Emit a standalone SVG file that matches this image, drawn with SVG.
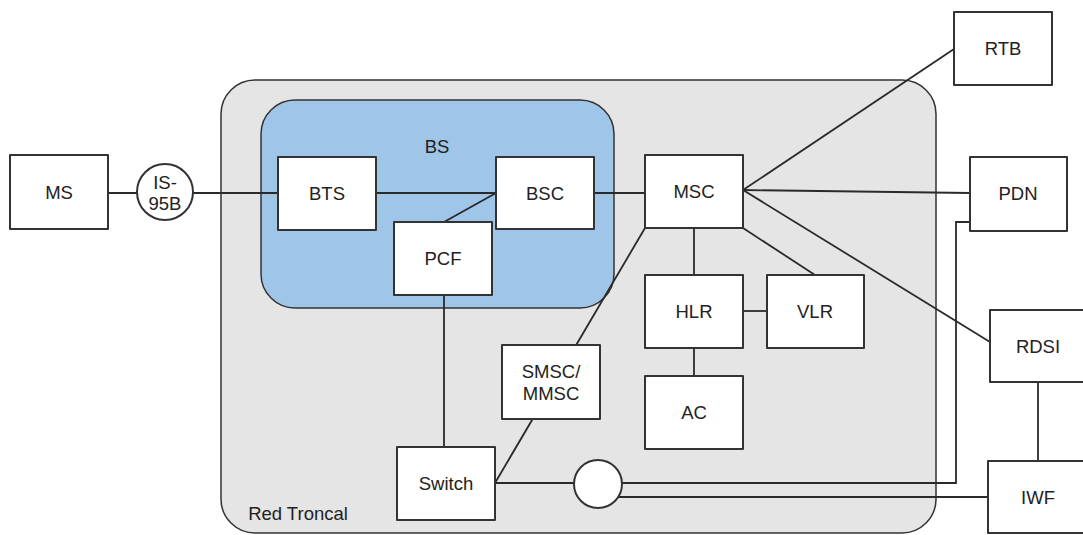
<svg xmlns="http://www.w3.org/2000/svg" width="1083" height="535" viewBox="0 0 1083 535">
  <style>
    .zone { fill: #e5e5e5; stroke: #333; stroke-width: 1.5; }
    .bs { fill: #9fc5e8; stroke: #333; stroke-width: 1.5; }
    .box { fill: #fff; stroke: #333; stroke-width: 2; stroke-linejoin: round; }
    .lbl { font-family: "Liberation Sans", Arial, sans-serif; font-size: 18.5px; fill: #222; text-anchor: middle; dominant-baseline: central; }
    .wire { fill: none; stroke: #2a2a2a; stroke-width: 1.8; }
  </style>

  <rect width="1083" height="535" fill="#fff"/>

  <!-- core network area -->
  <g id="red-troncal">
    <rect class="zone" x="221" y="80" width="715" height="453" rx="34"/>
    <text class="lbl" x="298" y="513">Red Troncal</text>
  </g>

  <!-- base station area -->
  <g id="bs">
    <rect class="bs" x="261" y="100" width="353" height="208" rx="34"/>
    <text class="lbl" x="437" y="146">BS</text>
  </g>

  <!-- connectors -->
  <g id="connectors" class="wire">
    <line x1="108" y1="193" x2="278" y2="193"/>
    <line x1="376" y1="193" x2="496" y2="193"/>
    <line x1="496" y1="193" x2="444" y2="222"/>
    <line x1="594" y1="193" x2="645" y2="193"/>
    <line x1="743" y1="190" x2="954" y2="49"/>
    <line x1="743" y1="190" x2="970" y2="193"/>
    <line x1="743" y1="190" x2="990" y2="342"/>
    <line x1="743" y1="228" x2="815" y2="275"/>
    <line x1="694" y1="228" x2="694" y2="275"/>
    <line x1="743" y1="311" x2="767" y2="311"/>
    <line x1="694" y1="348" x2="694" y2="376"/>
    <line x1="444" y1="295" x2="444" y2="447"/>
    <line x1="495" y1="483" x2="645" y2="228"/>
    <line x1="495" y1="483" x2="574" y2="483"/>
    <polyline points="622,483 956,483 956,222 970,222"/>
    <line x1="617" y1="497" x2="990" y2="497"/>
    <line x1="1038" y1="382" x2="1038" y2="461"/>
  </g>

  <g id="ms"><rect class="box" x="10" y="155" width="98" height="74"/><text class="lbl" x="59" y="192">MS</text></g>
  <g id="is95b"><circle class="box" cx="165" cy="192" r="28"/><text class="lbl" x="165" y="182">IS-</text><text class="lbl" x="165" y="203">95B</text></g>
  <g id="bts"><rect class="box" x="278" y="157" width="98" height="73"/><text class="lbl" x="327" y="193">BTS</text></g>
  <g id="bsc"><rect class="box" x="496" y="157" width="98" height="72"/><text class="lbl" x="545" y="193">BSC</text></g>
  <g id="pcf"><rect class="box" x="394" y="222" width="98" height="73"/><text class="lbl" x="443" y="258">PCF</text></g>
  <g id="msc"><rect class="box" x="645" y="155" width="98" height="73"/><text class="lbl" x="694" y="191">MSC</text></g>
  <g id="hlr"><rect class="box" x="645" y="275" width="98" height="73"/><text class="lbl" x="694" y="311">HLR</text></g>
  <g id="vlr"><rect class="box" x="767" y="275" width="97" height="73"/><text class="lbl" x="815" y="311">VLR</text></g>
  <g id="ac"><rect class="box" x="645" y="376" width="98" height="73"/><text class="lbl" x="694" y="412">AC</text></g>
  <g id="smsc"><rect class="box" x="502" y="345" width="98" height="74"/><text class="lbl" x="551" y="371">SMSC/</text><text class="lbl" x="551" y="393">MMSC</text></g>
  <g id="switch"><rect class="box" x="397" y="447" width="98" height="73"/><text class="lbl" x="446" y="483">Switch</text></g>
  <g id="junction"><circle class="box" cx="598" cy="484" r="24"/></g>
  <g id="rtb"><rect class="box" x="954" y="12" width="98" height="73"/><text class="lbl" x="1003" y="48">RTB</text></g>
  <g id="pdn"><rect class="box" x="970" y="157" width="97" height="74"/><text class="lbl" x="1018" y="193">PDN</text></g>
  <g id="rdsi"><rect class="box" x="990" y="310" width="100" height="72"/><text class="lbl" x="1038" y="346">RDSI</text></g>
  <g id="iwf"><rect class="box" x="988" y="461" width="102" height="72"/><text class="lbl" x="1038" y="497">IWF</text></g>
</svg>
